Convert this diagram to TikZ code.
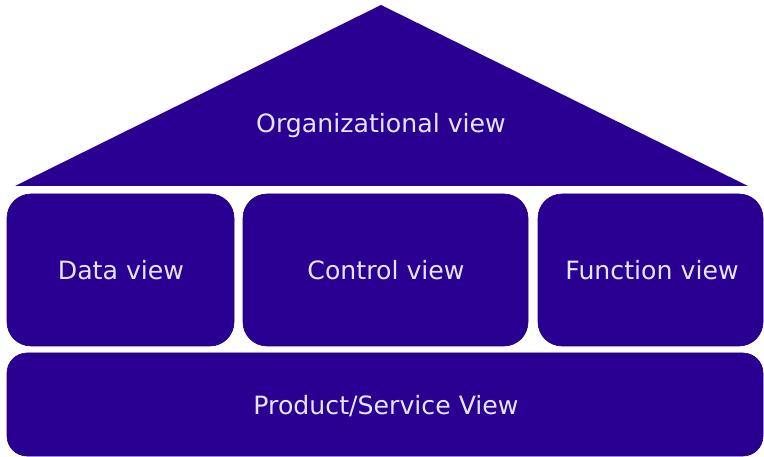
\documentclass[tikz,border=0pt]{standalone}
\usepackage{fontspec}
\setmainfont{DejaVu Sans}
\definecolor{viewfill}{HTML}{2A0093}
\definecolor{viewtext}{HTML}{E8E4F8}
\begin{document}
\begin{tikzpicture}[x=1pt,y=-1pt,
  viewbox/.style={fill=viewfill,draw=viewfill!80!black,line width=0.6pt,rounded corners=24pt},
  viewlabel/.style={text=viewtext,font=\fontsize{25.2}{29}\selectfont,inner sep=0pt}]
\useasboundingbox (0,0) rectangle (764,457);
\fill[viewfill] (381,5) coordinate (apex) -- (748,186) coordinate (br) -- (15,186) coordinate (bl) -- cycle;
\node[viewlabel] (org) at (381,126) {Organizational view};
\draw[viewbox] (7,194) rectangle (234,346);
\node[viewlabel] (data) at (121,270) {Data view};
\draw[viewbox] (243,194) rectangle (528,346);
\node[viewlabel] (ctrl) at (386,270) {Control view};
\draw[viewbox] (538,194) rectangle (763,346);
\node[viewlabel] (func) at (652,270) {Function view};
\draw[viewbox,rounded corners=20pt] (7,353) rectangle (763,456);
\node[viewlabel] (prod) at (386,406) {Product/Service View};
\end{tikzpicture}
\end{document}
